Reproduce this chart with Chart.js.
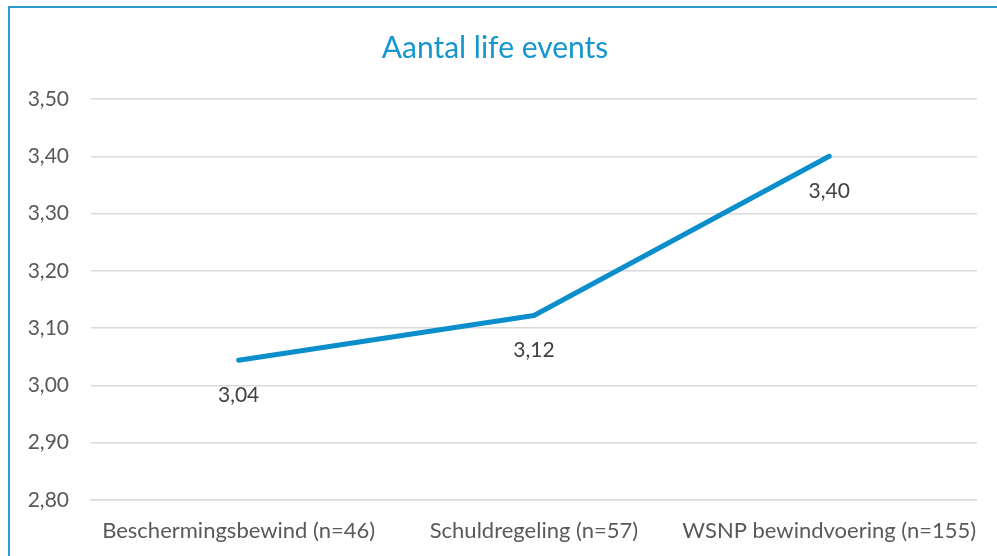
<!DOCTYPE html>
<html>
<head>
<meta charset="utf-8">
<script src="https://cdn.jsdelivr.net/npm/chart.js@4/dist/chart.umd.min.js"></script>
<style>
  html, body { margin: 0; padding: 0; background: #fff; }
  #wrap { position: relative; width: 997px; height: 556px; }
  #frame { position: absolute; left: 8px; top: 6px; right: 0; bottom: 0; border-left: 2px solid #2f9bcb; border-top: 2px solid #2f9bcb; pointer-events: none; }
  canvas { position: absolute; left: 0; top: 0; }
</style>
</head>
<body>
<div id="wrap">
  <canvas id="c" width="997" height="556"></canvas>
  <div id="frame"></div>
</div>
<script>
const categories = ["Beschermingsbewind (n=46)", "Schuldregeling (n=57)", "WSNP bewindvoering (n=155)"];
const values = [3.044, 3.122, 3.40];
const valueLabels = ["3,04", "3,12", "3,40"];
const titleText = "Aantal life events";

const FONT = "Lato, 'Open Sans', sans-serif";
const fmt = v => v.toFixed(2).replace('.', ',');

const labelPlugin = {
  id: 'valueLabels',
  afterDatasetsDraw(chart) {
    const ctx = chart.ctx;
    const meta = chart.getDatasetMeta(0);
    ctx.save();
    ctx.font = "21px " + FONT;
    ctx.fillStyle = "#404040";
    ctx.textAlign = "center";
    ctx.textBaseline = "middle";
    meta.data.forEach((pt, i) => {
      ctx.fillText(valueLabels[i], pt.x, pt.y + 35);
    });
    ctx.restore();
  }
};

new Chart(document.getElementById('c'), {
  type: 'line',
  data: {
    labels: categories,
    datasets: [{
      data: values,
      borderColor: '#0a8fcc',
      borderWidth: 5,
      pointRadius: 0,
      fill: false,
      tension: 0,
      borderCapStyle: 'round',
      borderJoinStyle: 'round'
    }]
  },
  options: {
    responsive: false,
    animation: false,
    layout: { padding: { left: 10, right: 17, top: 0, bottom: 10 } },
    plugins: {
      legend: { display: false },
      tooltip: { enabled: false },
      title: {
        display: true,
        text: titleText,
        color: '#1596cf',
        font: { family: FONT, size: 30, weight: 'normal' },
        padding: { top: 30, bottom: 33 }
      }
    },
    scales: {
      x: {
        offset: true,
        grid: { display: false, drawTicks: false },
        border: { display: true, color: '#d9d9d9', width: 1.5 },
        ticks: { color: '#595959', font: { family: FONT, size: 22 }, padding: 18, maxRotation: 0, minRotation: 0, autoSkip: false },
        afterFit(s) { s.height = 46; }
      },
      y: {
        min: 2.8,
        max: 3.5,
        grid: { color: '#d9d9d9', lineWidth: 1.5, drawTicks: false },
        border: { display: false },
        ticks: {
          stepSize: 0.1,
          color: '#595959',
          font: { family: FONT, size: 21 },
          padding: 22,
          callback: v => fmt(v)
        },
        afterFit(s) { s.width = 81; }
      }
    }
  },
  plugins: [labelPlugin]
});
</script>
</body>
</html>
